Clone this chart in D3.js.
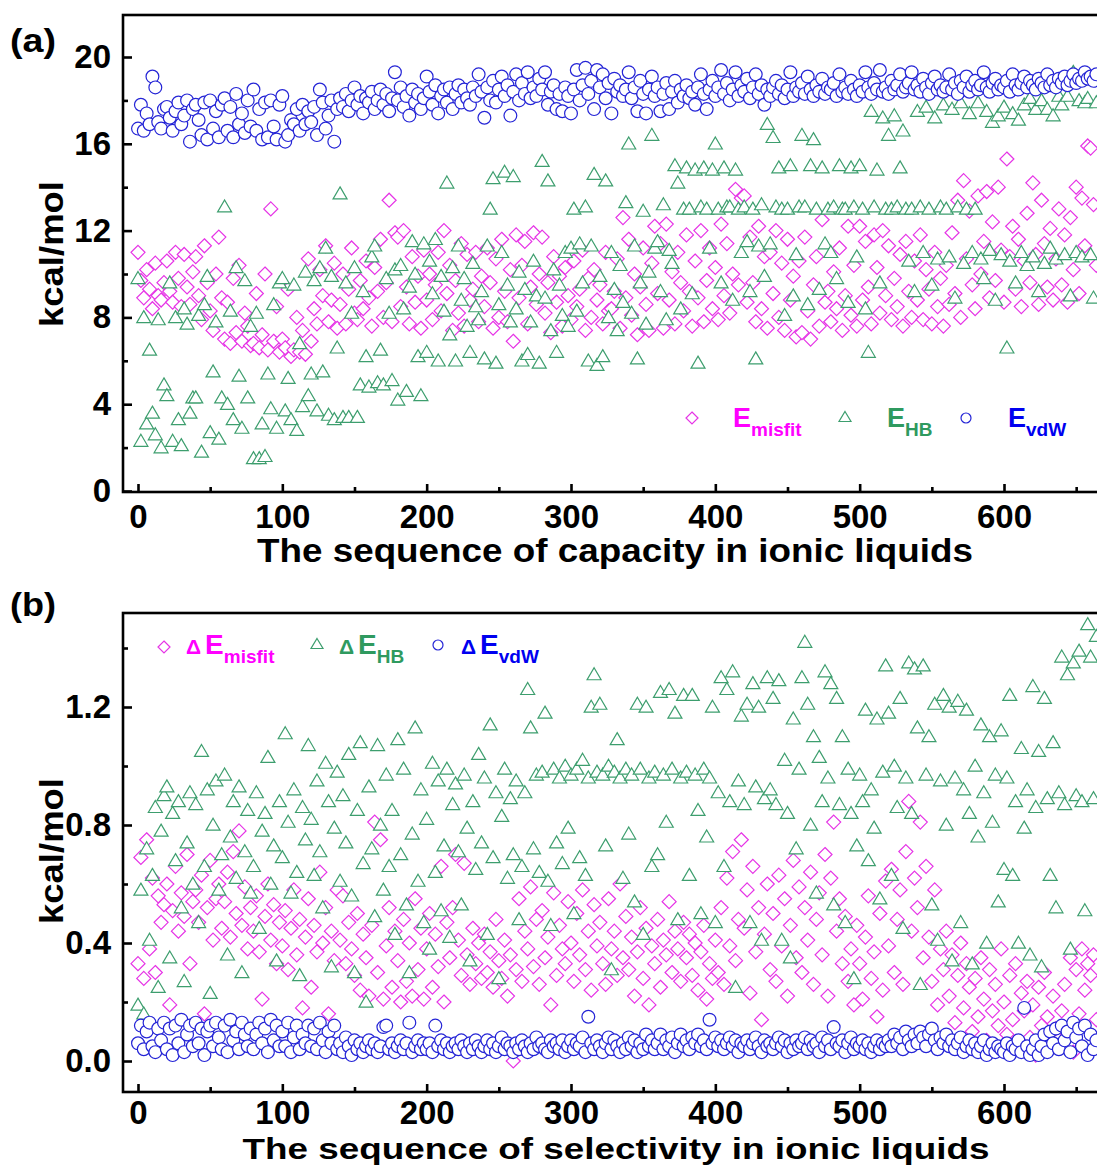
<!DOCTYPE html>
<html><head><meta charset="utf-8">
<script src="https://cdn.jsdelivr.net/npm/d3@7"></script>
<style>
body{margin:0;background:#fff;}
svg{display:block;}
text{font-family:"Liberation Sans",Arial,sans-serif;font-weight:bold;}
</style></head>
<body><svg id="chart" width="1097" height="1167"></svg>
<script>
// ---- data (sequence numbers 0,2,4,...,664) ----
const sequenceStep = 2;
const xTicks = [0,100,200,300,400,500,600];
const xMinorTicks = [50,150,250,350,450,550,650];
const capYTicks = [0,4,8,12,16,20];
const capYMinor = [2,6,10,14,18];
const selYTicks = [0,0.4,0.8,1.2];
const selYMinor = [0.2,0.6,1.0,1.4];

const capacityMisfit = [
11.0,9.7,8.9,10.2,9.3,8.4,10.5,9.0,8.8,9.6,
10.6,9.2,8.7,11.0,9.8,8.5,10.9,9.4,8.6,10.1,
10.8,9.0,7.9,11.3,9.6,8.3,7.4,10.0,11.7,8.9,
7.0,8.7,6.8,9.8,7.3,10.4,6.9,8.2,7.6,6.7,
6.8,9.1,6.6,7.2,10.0,6.5,13.0,6.9,8.5,6.4,
7.0,6.6,9.3,6.2,6.5,8.0,6.4,7.4,6.3,10.7,
6.9,8.4,7.7,10.2,9.0,11.3,7.8,8.8,10.5,7.5,
8.6,10.0,7.7,9.3,11.2,8.2,7.9,9.7,8.4,10.6,
8.9,7.6,10.3,9.2,11.6,8.0,9.6,13.4,7.8,11.9,
11.7,8.5,12.0,9.4,7.7,10.8,8.7,9.9,7.5,11.1,
8.8,10.0,7.9,9.5,11.0,8.3,12.0,9.1,10.4,7.4,
9.7,8.2,11.4,7.6,10.9,8.8,9.3,11.0,7.8,9.9,
8.5,11.2,9.6,7.5,10.7,8.0,11.6,9.2,7.8,10.2,
6.9,11.8,8.9,10.4,11.5,7.7,9.4,11.9,8.6,10.0,
11.7,8.2,9.6,7.3,10.8,8.7,9.9,7.6,10.3,9.0,
7.9,10.6,8.5,9.3,11.1,7.4,9.8,8.0,10.2,8.8,
9.5,7.7,11.0,8.3,8.4,9.2,10.7,7.5,12.6,8.9,
11.6,8.1,10.0,7.2,9.4,11.2,8.6,7.4,10.5,12.2,
9.1,11.4,7.5,12.3,8.8,10.1,7.7,11.0,9.6,8.3,
11.8,9.2,7.6,10.6,8.9,12.0,7.8,9.7,11.2,8.4,
10.3,7.9,12.3,9.0,11.4,8.2,10.0,13.9,9.5,13.5,
13.6,8.7,11.7,9.6,7.8,12.2,8.4,10.8,7.5,11.0,
9.1,12.0,8.0,10.5,7.4,11.6,8.8,9.9,7.1,10.6,
7.3,11.7,8.3,7.0,9.5,10.8,7.6,12.5,8.7,9.2,
7.8,10.1,8.4,11.2,7.4,9.0,12.2,8.1,10.4,7.6,
12.2,8.8,11.5,9.4,7.7,11.8,10.3,8.2,12.0,9.0,
11.3,7.9,9.8,8.5,10.9,7.6,11.5,9.2,8.0,10.6,
8.8,11.8,7.9,10.2,9.3,7.7,11.0,8.5,9.8,7.6,
10.4,8.6,11.9,9.1,13.4,8.0,14.3,10.7,12.9,9.5,
8.4,13.6,10.0,11.5,13.8,8.9,12.4,9.7,14.0,11.1,
8.7,15.3,10.8,12.2,9.3,11.6,8.5,10.6,12.8,9.6,
14.2,10.9,8.6,13.4,11.4,9.4,12.1,8.8,10.7,13.0,
9.5,11.8,8.7,12.6,10.2,14.0,9.1,13.5,11.3,15.9,
15.8,13.2,10.4];

const capacityHB = [
9.8,2.3,8.0,3.1,6.5,3.6,2.6,7.9,2.0,4.9,
4.4,9.6,2.3,8.0,3.3,2.1,8.4,7.7,3.6,4.3,
4.3,8.1,1.8,8.6,9.9,2.7,5.5,7.8,2.4,4.3,
13.1,4.0,8.3,3.3,10.3,5.3,2.9,9.7,4.3,7.6,
1.5,8.2,1.5,3.1,1.6,5.4,3.8,8.6,2.9,9.6,
9.8,3.7,5.2,3.3,9.5,2.8,6.8,3.9,10.1,4.4,
5.4,9.7,3.7,10.3,5.5,11.2,3.5,9.9,3.3,6.6,
13.7,3.4,9.6,3.4,8.2,10.3,3.4,4.9,9.2,6.2,
4.8,10.8,11.3,5.0,6.5,4.9,9.8,8.2,5.1,10.2,
4.2,10.4,8.4,4.6,9.4,11.5,10.0,6.2,4.4,11.4,
6.4,10.6,9.1,11.6,6.0,9.9,8.3,14.2,7.2,10.3,
6.0,11.3,8.8,9.8,7.6,6.4,10.5,8.5,7.9,9.2,
6.1,11.3,13.0,14.4,5.9,8.6,11.0,14.7,9.5,7.8,
14.5,8.4,10.1,6.0,9.3,6.3,7.8,10.6,9.0,5.9,
15.2,8.9,14.3,7.4,10.2,6.4,9.5,8.1,11.0,7.6,
11.2,13.0,8.3,11.4,9.6,13.1,6.0,11.3,14.6,5.8,
9.9,6.2,14.3,8.0,11.0,9.3,7.4,10.4,8.7,13.3,
16.0,8.2,11.3,6.1,9.6,12.9,7.7,10.1,16.4,11.2,
11.5,9.2,13.2,7.9,11.1,10.5,15.0,14.2,8.4,13.0,
14.9,13.0,9.1,14.8,5.9,13.1,14.9,13.0,11.2,14.8,
16.0,13.0,9.6,14.9,13.1,13.1,8.8,14.8,13.0,11.0,
13.1,11.5,9.2,13.0,6.1,11.3,13.2,9.9,16.9,11.4,
16.3,13.1,14.9,13.0,8.1,13.0,15.0,9.0,10.9,13.1,
16.4,13.1,8.6,15.0,16.2,13.0,9.3,14.9,11.4,13.0,
11.0,13.1,9.8,15.0,13.0,13.0,8.7,14.9,13.1,10.8,
15.0,13.0,8.4,6.4,17.5,13.1,14.8,9.6,17.2,13.0,
16.4,13.0,17.3,13.1,14.9,16.6,13.0,10.6,13.0,9.2,
17.5,13.1,11.0,17.7,13.0,9.5,17.2,10.7,13.1,17.8,
13.0,10.8,17.6,8.9,13.1,17.9,10.5,13.0,17.4,11.0,
13.0,17.9,10.7,9.8,17.5,11.1,17.0,8.8,17.3,10.9,
17.7,6.6,10.6,17.4,9.6,17.1,11.0,17.8,10.4,18.1,
10.8,17.6,9.2,18.0,10.5,17.6,11.2,17.3,10.7,18.2,
17.8,10.9,18.2,9.0,19.3,11.0,18.0,10.8,17.9,18.1,
10.9,8.9,17.9];

const capacityVdW = [
16.7,17.8,16.6,17.4,16.9,19.1,18.6,17.0,16.7,17.6,
17.7,17.2,16.6,17.5,17.9,16.9,17.3,18.0,16.1,17.6,
17.8,17.1,16.4,17.9,16.2,18.0,16.7,17.5,16.3,17.8,
18.1,16.6,17.7,16.3,18.3,16.9,17.4,16.5,18.0,16.8,
18.5,16.6,17.6,16.2,17.9,16.3,18.0,16.8,16.2,17.8,
18.2,16.1,16.4,17.1,16.9,17.6,16.6,17.8,16.9,17.5,
17.0,17.7,16.4,18.5,17.9,16.7,17.3,18.0,16.1,17.6,
18.1,17.7,18.3,17.5,18.0,18.6,17.8,18.2,17.4,18.1,
17.9,18.4,17.6,18.0,18.5,17.8,18.3,17.5,18.1,19.3,
18.0,18.6,17.7,18.2,17.3,18.5,17.9,18.3,17.6,18.1,
19.1,18.4,17.8,18.7,17.4,18.2,18.5,17.9,18.6,17.6,
18.3,18.7,17.9,18.5,18.1,17.8,18.6,18.2,19.2,18.4,
17.2,18.6,18.0,18.9,17.9,18.5,19.1,18.2,18.7,17.3,
18.4,19.2,18.0,18.8,18.3,19.3,18.1,18.6,18.2,19.0,
18.5,19.3,17.8,18.4,18.7,17.6,18.3,17.5,18.6,18.2,
17.4,18.5,19.4,18.0,18.7,19.5,18.3,18.9,17.6,19.4,
18.6,19.2,18.1,18.8,17.4,19.0,18.4,18.7,18.2,18.5,
19.3,18.1,18.6,17.5,18.9,18.3,17.4,18.5,19.1,18.2,
18.6,17.5,18.3,18.8,17.6,18.4,18.9,17.9,18.5,18.2,
18.7,18.1,18.4,17.8,18.6,19.2,18.3,17.6,18.5,18.9,
18.2,18.6,19.4,18.3,18.8,18.0,18.5,19.3,18.2,18.7,
18.4,19.0,18.1,18.6,19.2,18.3,18.7,17.8,18.5,18.2,
18.6,18.9,18.3,18.7,18.1,18.5,19.3,18.2,18.6,18.4,
18.8,18.3,19.1,18.5,18.2,18.7,18.4,19.0,18.3,18.6,
18.5,18.8,18.2,19.2,18.4,18.6,18.3,18.9,18.5,18.2,
18.7,18.4,19.3,18.6,18.3,18.8,18.5,19.4,18.4,18.6,
18.3,18.9,18.5,18.7,19.2,18.4,18.6,18.8,19.3,18.5,
18.7,18.4,19.0,18.6,18.3,18.8,19.1,18.5,18.7,18.4,
18.6,19.2,18.5,18.8,18.3,18.9,18.6,19.1,18.4,18.7,
18.9,18.5,18.7,19.3,18.6,18.4,18.8,19.0,18.5,18.7,
18.6,18.9,18.4,19.2,18.7,18.5,18.8,19.1,18.6,18.9,
18.7,18.5,19.0,18.8,18.6,19.2,18.7,18.9,18.6,19.0,
18.8,19.1,18.7,18.9,19.2,18.8,19.0,18.9,19.3,19.0,
19.1,18.9,19.2];

const selectivityMisfit = [
0.33,0.69,0.28,0.75,0.38,0.62,0.30,0.56,0.47,0.53,
0.60,0.19,0.51,0.66,0.44,0.57,0.49,0.70,0.33,0.54,
0.58,0.47,0.63,0.16,0.52,0.68,0.41,0.55,0.60,0.45,
0.54,0.64,0.42,0.71,0.50,0.78,0.46,0.59,0.38,0.52,
0.44,0.56,0.37,0.21,0.49,0.60,0.41,0.53,0.33,0.47,
0.39,0.51,0.31,0.45,0.58,0.36,0.48,0.18,0.42,0.55,
0.25,0.46,0.37,0.64,0.40,0.52,0.16,0.44,0.34,0.58,
0.41,0.56,0.33,0.47,0.38,0.29,0.50,0.24,0.43,0.35,
0.22,0.46,0.81,0.30,0.75,0.21,0.39,0.52,0.25,0.44,
0.34,0.20,0.48,0.27,0.40,0.22,0.55,0.31,0.45,0.21,
0.38,0.50,0.25,0.43,0.32,0.66,0.20,0.47,0.35,0.52,
0.70,0.41,0.29,0.67,0.36,0.26,0.45,0.33,0.40,0.28,
0.43,0.30,0.37,0.25,0.48,0.34,0.28,0.41,0.22,0.36,
0.00,0.31,0.55,0.27,0.44,0.38,0.59,0.32,0.48,0.26,
0.51,0.35,0.42,0.19,0.57,0.29,0.46,0.38,0.33,0.54,
0.40,0.27,0.50,0.36,0.58,0.31,0.44,0.24,0.53,0.39,
0.47,0.33,0.26,0.55,0.38,0.44,0.29,0.60,0.35,0.49,
0.31,0.42,0.22,0.37,0.52,0.28,0.45,0.19,0.39,0.33,
0.48,0.25,0.41,0.36,0.54,0.30,0.44,0.38,0.27,0.47,
0.35,0.43,0.29,0.40,0.24,0.37,0.46,0.21,0.33,0.28,
0.41,0.30,0.52,0.26,0.62,0.39,0.71,0.34,0.48,0.75,
0.45,0.58,0.23,0.66,0.37,0.52,0.14,0.43,0.60,0.31,
0.50,0.27,0.63,0.39,0.55,0.22,0.46,0.68,0.35,0.59,
0.30,0.52,0.41,0.64,0.26,0.48,0.57,0.36,0.70,0.22,
0.62,0.81,0.44,0.55,0.33,0.49,0.27,0.38,0.19,0.46,
0.33,0.21,0.42,0.56,0.28,0.37,0.15,0.50,0.24,0.61,
0.39,0.65,0.30,0.48,0.58,0.26,0.71,0.88,0.44,0.62,
0.52,0.81,0.35,0.66,0.42,0.27,0.58,0.19,0.38,0.31,
0.44,0.22,0.36,0.13,0.29,0.40,0.18,0.33,0.25,0.10,
0.28,0.15,0.35,0.21,0.07,0.31,0.17,0.26,0.12,0.38,
0.20,0.09,0.29,0.14,0.33,0.04,0.23,0.17,0.27,0.08,
0.19,0.02,0.25,0.12,0.30,0.15,0.07,0.22,0.11,0.05,
0.17,0.26,0.09,0.35,0.03,0.31,0.16,0.38,0.24,0.33,
0.29,0.36,0.14];

const selectivityHB = [
0.19,0.58,0.16,0.72,0.41,0.63,0.86,0.25,0.78,0.90,
0.93,0.35,0.84,0.68,0.88,0.52,0.27,0.74,0.91,0.60,
0.87,0.47,1.05,0.66,0.92,0.23,0.80,0.95,0.58,0.70,
0.97,0.36,0.76,0.88,0.62,0.93,0.30,0.71,0.85,0.57,
0.66,0.91,0.45,0.78,0.84,1.03,0.60,0.73,0.34,0.88,
0.69,1.11,0.81,0.57,0.92,0.64,0.29,0.86,0.75,1.07,
0.82,0.63,0.95,0.71,0.52,1.01,0.88,0.32,0.79,0.98,
0.61,0.90,0.74,1.04,0.56,0.30,0.85,1.08,0.67,0.20,
0.93,0.72,0.49,1.07,0.80,0.58,0.97,0.66,0.85,0.43,
1.09,0.70,0.99,0.53,0.30,0.77,1.13,0.61,0.92,0.47,
0.82,0.38,1.01,0.64,0.95,0.51,0.73,0.99,0.42,0.87,
0.94,0.71,0.53,0.97,0.79,0.34,0.88,0.65,1.04,0.74,
0.96,0.43,1.14,0.69,0.91,0.28,0.83,0.99,0.62,0.89,
0.70,0.95,0.48,0.66,0.91,1.26,1.13,0.72,0.97,0.64,
0.98,1.18,0.61,0.46,0.99,0.74,0.96,0.67,1.00,0.79,
0.97,0.50,0.99,0.69,1.02,0.63,0.96,1.20,1.31,0.98,
1.21,0.97,0.73,1.00,0.31,0.98,1.09,0.96,0.62,0.99,
0.77,0.97,0.54,1.21,0.99,0.43,1.20,0.96,0.66,0.98,
0.70,1.25,0.97,0.81,1.26,0.99,1.18,0.48,0.96,1.24,
0.98,0.63,1.24,0.97,0.85,0.50,0.99,0.76,0.96,1.20,
0.47,0.91,1.30,0.66,1.26,0.88,1.32,0.25,0.95,1.17,
0.87,1.21,0.47,1.28,0.93,1.20,0.41,0.89,1.30,0.92,
1.23,0.87,1.29,0.41,1.02,0.84,0.35,1.16,0.72,0.99,
1.30,1.42,1.21,0.80,1.10,0.57,1.03,0.88,1.32,0.96,
1.28,0.53,1.23,0.87,1.10,0.47,0.99,0.84,0.28,0.73,
0.97,0.88,1.19,0.68,0.92,0.79,1.16,0.55,0.98,1.34,
1.18,0.63,1.00,0.86,1.23,0.45,0.96,1.35,0.84,1.33,
1.13,0.26,1.34,0.97,1.10,0.53,1.21,0.41,0.95,1.24,
0.80,1.20,0.34,0.96,1.22,0.47,0.92,1.19,0.84,0.33,
1.00,0.76,1.14,0.91,0.40,1.10,0.81,0.97,0.54,1.12,
0.65,0.96,1.24,0.63,0.88,0.40,1.06,0.79,0.92,0.36,
1.27,0.86,1.05,0.32,1.23,0.89,0.63,1.08,0.52,0.91,
1.37,0.87,1.31,0.38,1.35,0.90,1.39,0.88,0.51,1.48,
1.37,0.89,1.44];

const selectivityVdW = [
0.06,0.12,0.04,0.10,0.13,0.05,0.03,0.11,0.07,0.13,
0.04,0.11,0.02,0.12,0.06,0.14,0.03,0.09,0.12,0.05,
0.13,0.06,0.11,0.02,0.10,0.12,0.05,0.13,0.08,0.04,
0.12,0.03,0.14,0.07,0.10,0.04,0.13,0.09,0.05,0.11,
0.04,0.09,0.13,0.06,0.11,0.03,0.14,0.07,0.12,0.05,
0.10,0.05,0.13,0.03,0.08,0.12,0.04,0.09,0.06,0.12,
0.05,0.11,0.04,0.13,0.07,0.03,0.10,0.06,0.12,0.04,
0.06,0.03,0.08,0.05,0.02,0.07,0.04,0.06,0.03,0.05,
0.07,0.04,0.06,0.03,0.05,0.115,0.12,0.04,0.06,0.03,
0.05,0.07,0.04,0.06,0.13,0.03,0.05,0.07,0.04,0.06,
0.04,0.06,0.03,0.12,0.05,0.07,0.04,0.06,0.03,0.05,
0.06,0.04,0.07,0.05,0.03,0.06,0.04,0.07,0.05,0.03,
0.05,0.07,0.04,0.06,0.03,0.05,0.08,0.04,0.06,0.05,
0.03,0.06,0.04,0.07,0.05,0.03,0.06,0.04,0.08,0.05,
0.06,0.04,0.03,0.07,0.05,0.06,0.04,0.07,0.03,0.05,
0.07,0.04,0.06,0.05,0.08,0.03,0.15,0.06,0.04,0.07,
0.05,0.03,0.06,0.08,0.04,0.07,0.05,0.03,0.06,0.04,
0.08,0.05,0.07,0.03,0.06,0.04,0.09,0.05,0.07,0.04,
0.06,0.09,0.04,0.07,0.05,0.08,0.03,0.06,0.09,0.05,
0.07,0.04,0.08,0.06,0.09,0.05,0.07,0.04,0.14,0.06,
0.08,0.05,0.07,0.04,0.06,0.08,0.05,0.07,0.03,0.06,
0.05,0.07,0.04,0.06,0.08,0.05,0.03,0.07,0.05,0.06,
0.04,0.06,0.08,0.05,0.07,0.03,0.06,0.04,0.07,0.05,
0.06,0.08,0.04,0.07,0.05,0.06,0.03,0.08,0.05,0.07,
0.04,0.115,0.06,0.05,0.07,0.03,0.06,0.08,0.04,0.06,
0.05,0.07,0.04,0.06,0.03,0.05,0.07,0.04,0.06,0.05,
0.07,0.05,0.09,0.06,0.08,0.04,0.10,0.07,0.05,0.09,
0.06,0.10,0.08,0.05,0.09,0.11,0.07,0.04,0.08,0.06,
0.09,0.05,0.07,0.04,0.06,0.08,0.03,0.05,0.07,0.04,
0.06,0.03,0.05,0.07,0.02,0.04,0.06,0.03,0.05,0.04,
0.03,0.06,0.02,0.05,0.04,0.07,0.03,0.18,0.05,0.02,
0.04,0.07,0.02,0.05,0.09,0.03,0.10,0.06,0.11,0.04,
0.12,0.07,0.10,0.03,0.13,0.08,0.11,0.05,0.12,0.02,
0.09,0.04,0.07];

// ---- styles ----
const COL = {misfit:"#e633e6", hb:"#3d9e6e", vdw:"#2424d6"};
const TXT = {misfit:"#ff00ff", hb:"#2f9a5f", vdw:"#0000f0"};
const shapes = {
  misfit: "M0,-7L7,0L0,7L-7,0Z",
  hb: "M0,-6.8L7,5.2L-7,5.2Z",
  vdw: d3.symbol(d3.symbolCircle, Math.PI*6.4*6.4)()
};
const legendShapes = {
  misfit: "M0,-6L6,0L0,6L-6,0Z",
  hb: "M0,-5.5L6,4.5L-6,4.5Z",
  vdw: d3.symbol(d3.symbolCircle, Math.PI*5*5)()
};

const svg = d3.select("#chart");
const x = d3.scaleLinear().domain([0,600]).range([138,1004]);
const LEFT = 123, RIGHT = 1125;

const panels = [
  {id:"a", label:"(a)", labelY:52, top:15, bottom:492,
   y:d3.scaleLinear().domain([0,20]).range([491,57]),
   major:capYTicks, minor:capYMinor, fmt:d3.format("d"), xPad:13,
   title:"The sequence of capacity in ionic liquids", titleY:562, titleSize:33, titleLen:716, titleX:615,
   yTitleY:254,
   series:[["misfit",capacityMisfit],["hb",capacityHB],["vdw",capacityVdW]]},
  {id:"b", label:"(b)", labelY:616, top:613, bottom:1092,
   y:d3.scaleLinear().domain([0,1.2]).range([1061,707]),
   major:selYTicks, minor:selYMinor, fmt:d3.format(".1f"), xPad:9,
   title:"The sequence of selectivity in ionic liquids", titleY:1159, titleSize:30, titleLen:747, titleX:616,
   yTitleY:851,
   series:[["misfit",selectivityMisfit],["hb",selectivityHB],["vdw",selectivityVdW]]}
];

panels.forEach(p => {
  const g = svg.append("g");
  g.append("clipPath").attr("id","clip"+p.id).append("rect")
    .attr("x",LEFT).attr("y",p.top).attr("width",RIGHT-LEFT).attr("height",p.bottom-p.top);
  const data = g.append("g").attr("clip-path",`url(#clip${p.id})`);
  p.series.forEach(([key,vals]) => {
    data.append("g").selectAll("path").data(vals).join("path")
      .attr("d", shapes[key])
      .attr("transform",(d,k)=>`translate(${x(k*sequenceStep)},${p.y(d)})`)
      .attr("fill","#fff").attr("stroke",COL[key]).attr("stroke-width",1.2);
  });
  // frame
  g.append("rect").attr("x",LEFT).attr("y",p.top).attr("width",RIGHT-LEFT).attr("height",p.bottom-p.top)
    .attr("fill","none").attr("stroke","#000").attr("stroke-width",2.6);
  // y axis
  const ya = g.append("g").attr("transform",`translate(${LEFT},0)`)
    .call(d3.axisLeft(p.y).tickValues(p.major).tickSizeInner(-9).tickSizeOuter(0).tickPadding(12).tickFormat(p.fmt));
  const ym = g.append("g").attr("transform",`translate(${LEFT},0)`)
    .call(d3.axisLeft(p.y).tickValues(p.minor).tickSizeInner(-5).tickSizeOuter(0).tickFormat(""));
  // x axis
  const xa = g.append("g").attr("transform",`translate(0,${p.bottom})`)
    .call(d3.axisBottom(x).tickValues(xTicks).tickSizeInner(-8).tickSizeOuter(0).tickPadding(p.xPad).tickFormat(d3.format("d")));
  const xm = g.append("g").attr("transform",`translate(0,${p.bottom})`)
    .call(d3.axisBottom(x).tickValues(xMinorTicks).tickSizeInner(-5).tickSizeOuter(0).tickFormat(""));
  [ya,ym,xa,xm].forEach(a => {
    a.select(".domain").remove();
    a.selectAll("line").attr("stroke","#000").attr("stroke-width",2.6);
    a.selectAll("text").attr("font-size",33).attr("font-family",null).attr("fill","#000");
  });
  // titles
  g.append("text").attr("x",p.titleX).attr("y",p.titleY).attr("text-anchor","middle")
    .attr("font-size",p.titleSize).attr("textLength",p.titleLen).attr("lengthAdjust","spacingAndGlyphs")
    .text(p.title);
  g.append("text").attr("transform",`translate(63,${p.yTitleY}) rotate(-90)`).attr("text-anchor","middle")
    .attr("font-size",33).attr("textLength",146).attr("lengthAdjust","spacingAndGlyphs").text("kcal/mol");
  g.append("text").attr("x",10).attr("y",p.labelY).attr("font-size",34)
    .attr("textLength",46).attr("lengthAdjust","spacingAndGlyphs").text(p.label);
});

// legend (a)
const legA = svg.append("g");
const legAItems = [
  {key:"misfit", sx:692, sy:418, ex:733, sub:"misfit"},
  {key:"hb", sx:845, sy:417, ex:887, sub:"HB"},
  {key:"vdw", sx:966, sy:418, ex:1008, sub:"vdW"}
];
legAItems.forEach(it => {
  legA.append("path").attr("d",legendShapes[it.key]).attr("transform",`translate(${it.sx},${it.sy})`)
    .attr("fill","none").attr("stroke",COL[it.key]).attr("stroke-width",1.2);
  const t = legA.append("text").attr("x",it.ex).attr("y",427).attr("fill",TXT[it.key]);
  t.append("tspan").attr("font-size",27).text("E");
  t.append("tspan").attr("font-size",19).attr("dy",9).text(it.sub);
});

// legend (b)
const legB = svg.append("g");
const legBItems = [
  {key:"misfit", sx:164, sy:647, dx:186, sub:"misfit"},
  {key:"hb", sx:317, sy:644, dx:339, sub:"HB"},
  {key:"vdw", sx:438, sy:645, dx:461, sub:"vdW"}
];
legBItems.forEach(it => {
  legB.append("path").attr("d",legendShapes[it.key]).attr("transform",`translate(${it.sx},${it.sy})`)
    .attr("fill","none").attr("stroke",COL[it.key]).attr("stroke-width",1.2);
  const t = legB.append("text").attr("x",it.dx).attr("y",654).attr("fill",TXT[it.key]);
  t.append("tspan").attr("font-size",21).text("\u0394");
  t.append("tspan").attr("font-size",28).attr("dx",4).text("E");
  t.append("tspan").attr("font-size",19).attr("dy",9).text(it.sub);
});
</script>
</body></html>
